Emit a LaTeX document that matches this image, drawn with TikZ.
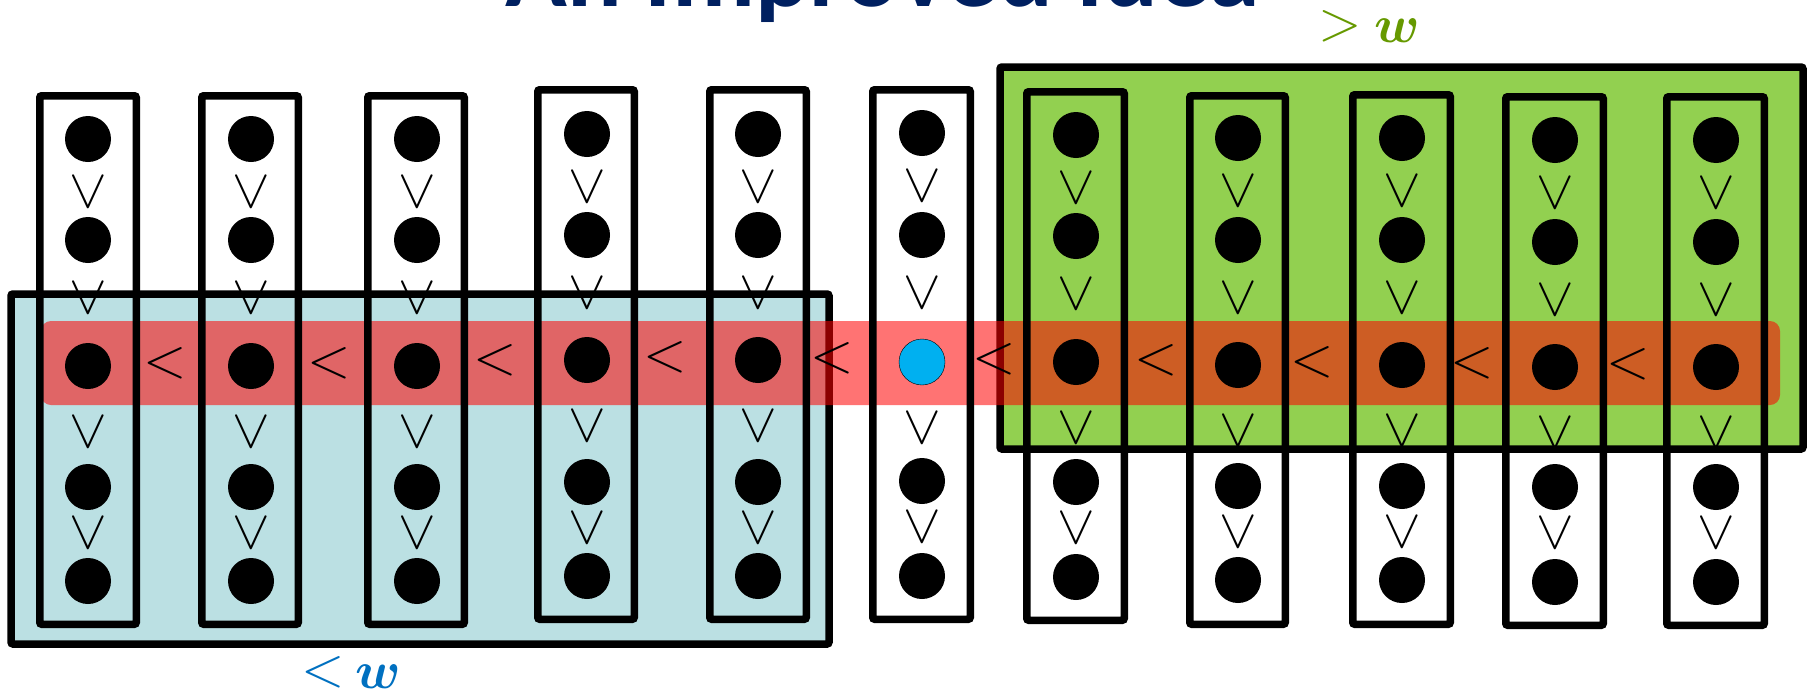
\RequirePackage{fix-cm}
\documentclass[tikz,border=0pt]{standalone}
\usepackage{fontspec}
\usepackage{amsmath}
\usepackage{graphicx}
\newfontfamily\titlefont{Carlito}
\definecolor{titleblue}{HTML}{002060}
\definecolor{boxblue}{HTML}{BBE0E3}
\definecolor{boxgreen}{HTML}{92D050}
\definecolor{dotblue}{HTML}{00B0F0}
\definecolor{lblblue}{HTML}{0070C0}
\definecolor{lblgreen}{HTML}{669900}
\begin{document}
\begin{tikzpicture}[x=1pt,y=-1pt,
  region/.style={draw=black,line width=7.5pt,rounded corners=2pt},
  colbox/.style={draw=black,line width=7.5pt,rounded corners=2pt},
  band/.style={fill=red,fill opacity=0.55,rounded corners=10pt},
  dot/.style={circle,fill=black,minimum size=46pt,inner sep=0pt},
  keydot/.style={circle,fill=dotblue,draw=black,line width=0.4pt,minimum size=46pt,inner sep=0pt},
  lt/.style={inner sep=0pt,font=\fontsize{57}{57}\selectfont},
  ltdown/.style={lt,rotate=90},
  lbl/.style={inner sep=0pt,font=\fontsize{57}{57}\selectfont},
  lblw/.style={inner sep=0pt,font=\fontsize{53}{53}\selectfont}]
\useasboundingbox (0,0) rectangle (1808,691);
% title (cut by the top edge)
\node[anchor=base west,inner sep=0pt,text=titleblue] (title) at (505,6)
  {\resizebox{754pt}{!}{\titlefont\bfseries An Improved Idea}};
% regions
\draw[region,fill=boxblue] (11,294) rectangle (829,644);
\draw[region,fill=boxgreen] (1000,67) rectangle (1803,449);
\fill[band] (41,321) rectangle (1780,405);
% columns
\foreach \i/\L/\R/\T/\B/\cx/\ya/\yb/\yc/\yd/\ye in {
  1/36/140/92/628/88/139/240/366/487/581,
  2/198/302/92/628/251/139/240/366/487/581,
  3/364/468/92/628/417/139/240/366/487/581,
  4/534/638/86/623/587/134/235/360/482/576,
  5/706/810/86/623/758/134/235/360/482/576,
  6/869/974/86/623/922/133/235/362/481/576,
  7/1023/1128/88/624/1076/135/236/362/482/577,
  8/1186/1289/92/628/1238/138/240/365/486/580,
  9/1349/1454/91/628/1402/138/240/365/486/580,
  10/1502/1607/93/629/1555/140/242/367/487/582,
  11/1663/1768/93/629/1716/140/242/367/487/582}{
  \draw[colbox] (\L+3.75,\T+3.75) rectangle (\R-3.75,\B-3.75);
  \node[dot] (c\i-1) at (\cx,\ya) {};
  \node[dot] (c\i-2) at (\cx,\yb) {};
  \ifnum\i=6
    \node[keydot] (c\i-3) at (\cx,\yc) {};
  \else
    \node[dot] (c\i-3) at (\cx,\yc) {};
  \fi
  \node[dot] (c\i-4) at (\cx,\yd) {};
  \node[dot] (c\i-5) at (\cx,\ye) {};
  \node[ltdown] (v\i-1) at (\cx,\ya+53) {$<$};
  \node[ltdown] (v\i-2) at (\cx,\yb+58) {$<$};
  \node[ltdown] (v\i-3) at (\cx,\yc+66) {$<$};
  \node[ltdown] (v\i-4) at (\cx,\yd+46) {$<$};
}
% comparisons along the band
\foreach \j/\x/\y in {1/165/363,2/329/363,3/495/360,4/665/357,5/832/358,
  6/994/359,7/1156/360,8/1312/362,9/1472/363,10/1628/364}{
  \node[lt] (h\j) at (\x,\y) {$<$};
}
% labels
\node[lbl,text=lblblue,anchor=base] (ltlab) at (323.5,686) {$<$};
\node[lblw,text=lblblue,anchor=base] (wlow) at (378,688) {$\boldsymbol{w}$};
\node[lbl,text=lblgreen,anchor=base] (gtlab) at (1340.5,40) {$>$};
\node[lblw,text=lblgreen,anchor=base] (whigh) at (1397,42) {$\boldsymbol{w}$};
\end{tikzpicture}
\end{document}
